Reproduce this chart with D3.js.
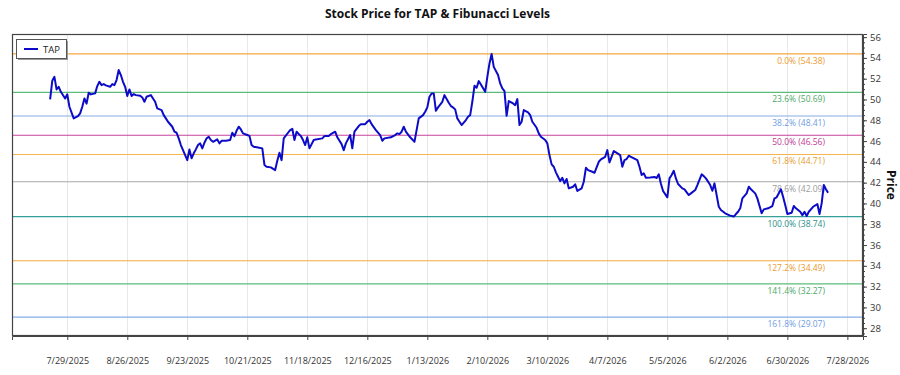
<!DOCTYPE html>
<html><head><meta charset="utf-8">
<script src="https://cdn.jsdelivr.net/npm/d3@7"></script>
<style>
html,body{margin:0;padding:0;background:#fff;}
svg{display:block;font-family:"Open Sans",sans-serif;}
</style></head>
<body><svg id="chart" width="900" height="375"></svg>
<script>
const ticker = "TAP";
const dates = ["2025-07-21","2025-07-22","2025-07-23","2025-07-24","2025-07-25","2025-07-26","2025-07-28","2025-07-29","2025-07-30","2025-08-01","2025-08-03","2025-08-04","2025-08-05","2025-08-06","2025-08-07","2025-08-08","2025-08-09","2025-08-11","2025-08-12","2025-08-13","2025-08-14","2025-08-15","2025-08-16","2025-08-18","2025-08-19","2025-08-20","2025-08-21","2025-08-22","2025-08-23","2025-08-24","2025-08-25","2025-08-26","2025-08-27","2025-08-28","2025-08-29","2025-08-30","2025-09-01","2025-09-02","2025-09-03","2025-09-04","2025-09-06","2025-09-07","2025-09-08","2025-09-09","2025-09-11","2025-09-12","2025-09-13","2025-09-14","2025-09-16","2025-09-17","2025-09-18","2025-09-19","2025-09-20","2025-09-21","2025-09-23","2025-09-24","2025-09-25","2025-09-26","2025-09-27","2025-09-28","2025-09-29","2025-09-30","2025-10-01","2025-10-02","2025-10-03","2025-10-04","2025-10-05","2025-10-07","2025-10-08","2025-10-09","2025-10-10","2025-10-11","2025-10-13","2025-10-14","2025-10-15","2025-10-16","2025-10-17","2025-10-18","2025-10-19","2025-10-21","2025-10-22","2025-10-23","2025-10-24","2025-10-26","2025-10-28","2025-10-29","2025-10-30","2025-11-01","2025-11-03","2025-11-04","2025-11-05","2025-11-06","2025-11-07","2025-11-09","2025-11-10","2025-11-11","2025-11-12","2025-11-13","2025-11-15","2025-11-16","2025-11-17","2025-11-18","2025-11-19","2025-11-21","2025-11-22","2025-11-25","2025-11-26","2025-11-28","2025-11-29","2025-12-01","2025-12-02","2025-12-04","2025-12-05","2025-12-06","2025-12-08","2025-12-09","2025-12-10","2025-12-12","2025-12-13","2025-12-15","2025-12-16","2025-12-17","2025-12-18","2025-12-20","2025-12-22","2025-12-23","2025-12-24","2025-12-27","2025-12-29","2025-12-30","2025-12-31","2026-01-01","2026-01-02","2026-01-03","2026-01-05","2026-01-06","2026-01-07","2026-01-08","2026-01-09","2026-01-11","2026-01-12","2026-01-13","2026-01-14","2026-01-15","2026-01-16","2026-01-17","2026-01-18","2026-01-20","2026-01-21","2026-01-23","2026-01-24","2026-01-25","2026-01-26","2026-01-27","2026-01-28","2026-01-29","2026-01-31","2026-02-01","2026-02-02","2026-02-03","2026-02-04","2026-02-05","2026-02-06","2026-02-07","2026-02-09","2026-02-10","2026-02-11","2026-02-12","2026-02-13","2026-02-15","2026-02-16","2026-02-17","2026-02-18","2026-02-19","2026-02-20","2026-02-22","2026-02-23","2026-02-24","2026-02-25","2026-02-26","2026-02-27","2026-03-01","2026-03-02","2026-03-03","2026-03-05","2026-03-06","2026-03-07","2026-03-09","2026-03-10","2026-03-11","2026-03-12","2026-03-13","2026-03-14","2026-03-15","2026-03-16","2026-03-17","2026-03-18","2026-03-19","2026-03-20","2026-03-22","2026-03-23","2026-03-24","2026-03-26","2026-03-27","2026-03-28","2026-03-29","2026-03-31","2026-04-01","2026-04-03","2026-04-04","2026-04-06","2026-04-07","2026-04-08","2026-04-10","2026-04-11","2026-04-13","2026-04-14","2026-04-15","2026-04-16","2026-04-17","2026-04-18","2026-04-21","2026-04-22","2026-04-23","2026-04-24","2026-04-25","2026-04-27","2026-04-29","2026-04-30","2026-05-01","2026-05-02","2026-05-03","2026-05-05","2026-05-06","2026-05-07","2026-05-08","2026-05-09","2026-05-10","2026-05-12","2026-05-13","2026-05-15","2026-05-16","2026-05-18","2026-05-19","2026-05-21","2026-05-22","2026-05-23","2026-05-25","2026-05-26","2026-05-27","2026-05-29","2026-05-30","2026-06-01","2026-06-03","2026-06-05","2026-06-06","2026-06-07","2026-06-08","2026-06-09","2026-06-11","2026-06-12","2026-06-13","2026-06-15","2026-06-16","2026-06-18","2026-06-19","2026-06-21","2026-06-23","2026-06-24","2026-06-25","2026-06-27","2026-06-28","2026-06-29","2026-06-30","2026-07-02","2026-07-03","2026-07-04","2026-07-06","2026-07-07","2026-07-08","2026-07-09","2026-07-10","2026-07-12","2026-07-14","2026-07-15","2026-07-16","2026-07-17","2026-07-18","2026-07-19"];
const prices = [50.01,51.8,52.18,50.97,51.22,50.74,50.1,50.5,49.3,48.18,48.4,48.66,49.3,50.1,49.6,50.65,50.49,50.59,51.29,51.7,51.38,51.48,51.36,51.22,51.48,51.38,51.87,52.83,52.35,51.7,51.22,50.33,50.97,50.33,50.52,50.42,50.36,50.2,49.78,50.26,50.42,50.1,49.78,49.14,48.98,48.5,48.18,47.86,47.38,46.9,46.8,46.26,45.62,45.13,44.17,45.2,44.34,44.82,45.2,45.62,45.78,45.3,45.84,46.26,46.41,46.1,45.93,46.16,45.78,46.03,46.03,46.03,46.1,46.8,46.48,46.99,47.38,47.12,46.74,46.58,46.5,45.62,45.45,45.39,45.3,43.7,43.53,43.47,43.21,44.1,44.88,44.17,46.26,46.8,47.06,47.18,46.1,46.9,46.48,46.1,45.62,46.36,45.3,46.1,46.16,46.26,46.48,46.48,46.67,46.9,46.36,45.71,45.13,45.78,46.58,45.3,46.9,47.44,47.63,47.63,47.86,48.02,47.63,47.06,46.58,46.03,46.26,46.36,46.58,46.74,46.67,46.9,47.38,46.9,46.36,46.16,45.93,47.06,48.18,48.5,48.82,49.24,50.26,50.58,50.58,48.91,49.24,49.78,50.42,49.68,49.37,49.24,49.05,48.18,47.86,47.54,48.02,48.34,48.5,49.78,51.32,51.13,51.77,51.45,50.74,52.18,53.47,54.38,53.14,52.35,51.55,51.07,50.81,48.43,49.85,49.62,49.46,50.04,47.54,47.86,48.98,48.76,48.5,47.86,47.28,46.74,46.41,46.1,45.78,44.65,43.76,43.53,42.99,42.57,42.15,42.47,41.93,42.35,41.45,41.61,41.84,41.2,41.45,42.09,43.43,43.21,43.05,42.95,44.01,44.24,44.49,45.13,43.95,45.04,44.91,44.65,43.53,44.17,44.27,44.59,44.49,44.17,43.53,42.73,42.89,42.47,42.5,42.55,42.45,42.8,41.9,41.2,40.59,42.41,42.73,43.14,42.41,41.87,41.45,41.36,40.81,40.97,41.29,41.77,42.8,42.63,42.41,41.77,41.22,41.93,39.68,39.37,39.05,38.85,38.74,38.98,39.2,39.53,40.49,40.97,41.61,41.36,40.97,40.49,39.05,39.43,39.53,39.75,40.49,40.59,41.36,40.65,39.85,38.98,39.11,39.75,39.53,39.2,38.88,39.2,38.79,39.2,39.68,39.94,38.98,40.01,41.77,41.36,41.03];
const fibRatios = ["0.0%","23.6%","38.2%","50.0%","61.8%","78.6%","100.0%","127.2%","141.4%","161.8%"];
const fibValues = [54.38,50.69,48.41,46.56,44.71,42.09,38.74,34.49,32.27,29.07];
const fibColors = ["#f4a742","#5dbb7a","#86aee8","#c8429e","#f4b650","#a8a8a8","#35a09a","#f4a742","#5dbb7a","#86aee8"];
const fibTextColors = ["#eb9a2e","#4aa868","#6f9ce0","#c23a96","#e8a030","#9a9a9a","#2a8f88","#eb9a2e","#4aa868","#6f9ce0"];
const xTickDates = ["2025-07-29","2025-08-26","2025-09-23","2025-10-21","2025-11-18","2025-12-16","2026-01-13","2026-02-10","2026-03-10","2026-04-07","2026-05-05","2026-06-02","2026-06-30","2026-07-28"];
const yTicks = d3.range(28, 57, 2);
const yMinorTicks = d3.range(27.5, 56.5, 0.5);

const parse = d3.timeParse("%Y-%m-%d");
const fmt = d3.timeFormat("%-m/%-d/%Y");
const data = dates.map((d,i)=>({date:parse(d), price:prices[i]}));

const svg = d3.select("#chart");
const L = 12, R = 863, T = 34, B = 336;

const x = d3.scaleTime()
  .domain([new Date(2025,6,3,5), new Date(2026,7,4,7)])
  .range([L, R]);
const y = d3.scaleLinear().domain([27.25, 56.3]).range([B, T]);

// vertical grid
svg.append("g").selectAll("line").data(xTickDates.map(parse)).join("line")
  .attr("x1", d=>Math.round(x(d))+0.5).attr("x2", d=>Math.round(x(d))+0.5)
  .attr("y1", T).attr("y2", B)
  .attr("stroke", "#e8e8e8").attr("stroke-width", 1);

// fib lines
const fib = fibValues.map((v,i)=>({v, r:fibRatios[i], c:fibColors[i], tc:fibTextColors[i]}));
svg.append("g").selectAll("line").data(fib).join("line")
  .attr("x1", L).attr("x2", R)
  .attr("y1", d=>y(d.v)).attr("y2", d=>y(d.v))
  .attr("stroke", d=>d.c).attr("stroke-width", 1.2);

svg.append("g").selectAll("text").data(fib).join("text")
  .attr("x", 825).attr("y", d=>y(d.v)+10)
  .attr("text-anchor", "end")
  .attr("font-size", "8.5px")
  .attr("fill", d=>d.tc)
  .text(d=>`${d.r} (${d.v.toFixed(2)})`);

// price line
const line = d3.line().x(d=>x(d.date)).y(d=>y(d.price));
svg.append("path").datum(data)
  .attr("d", line)
  .attr("fill", "none")
  .attr("stroke", "#0c0cc8")
  .attr("stroke-width", 2)
  .attr("stroke-linejoin", "round");

// frame
svg.append("rect").attr("x", L+0.5).attr("y", T+0.5).attr("width", R-L-1).attr("height", B-T-1)
  .attr("fill", "none").attr("stroke", "#444").attr("stroke-width", 1.2);

// x axis
const xAxis = d3.axisBottom(x).tickValues(xTickDates.map(parse)).tickFormat(fmt).tickSize(4).tickPadding(18);
const gx = svg.append("g").attr("transform", `translate(0,${B})`).call(xAxis);
gx.select(".domain").attr("stroke", "#444");
gx.selectAll(".tick line").attr("stroke", "#444");
gx.selectAll("text").attr("font-size", "9px").attr("fill", "#333").attr("font-family", "Open Sans");

// y axis (right)
const gyMinor = svg.append("g").attr("transform", `translate(${R},0)`)
  .call(d3.axisRight(y).tickValues(yMinorTicks).tickSize(2).tickFormat(""));
gyMinor.select(".domain").remove();
gyMinor.selectAll(".tick line").attr("stroke", "#444");
const gy = svg.append("g").attr("transform", `translate(${R},0)`)
  .call(d3.axisRight(y).tickValues(yTicks).tickSize(4).tickPadding(3));
gy.select(".domain").attr("stroke", "#444");
gy.selectAll(".tick line").attr("stroke", "#444");
gy.selectAll("text").attr("font-size", "9.5px").attr("fill", "#333").attr("font-family", "Open Sans");

// title
svg.append("text").attr("x", (L+R)/2).attr("y", 18).attr("text-anchor", "middle")
  .attr("font-size", "12px").attr("font-weight", "bold").attr("fill", "#111")
  .text(`Stock Price for ${ticker} & Fibunacci Levels`);

// y label
svg.append("text").attr("transform", `translate(887,185) rotate(90)`)
  .attr("text-anchor", "middle").attr("font-size", "12px").attr("font-weight", "bold").attr("fill", "#111")
  .text("Price");

// legend
const lg = svg.append("g");
lg.append("rect").attr("x", 18).attr("y", 41).attr("width", 50).attr("height", 19).attr("fill", "#999");
lg.append("rect").attr("x", 16.5).attr("y", 39.5).attr("width", 50).attr("height", 19).attr("fill", "#fff").attr("stroke", "#555");
lg.append("line").attr("x1", 24).attr("x2", 38).attr("y1", 49).attr("y2", 49).attr("stroke", "#0c0cc8").attr("stroke-width", 2);
lg.append("text").attr("x", 43).attr("y", 52.5).attr("font-size", "9.5px").attr("fill", "#222").text(ticker);
</script></body></html>
